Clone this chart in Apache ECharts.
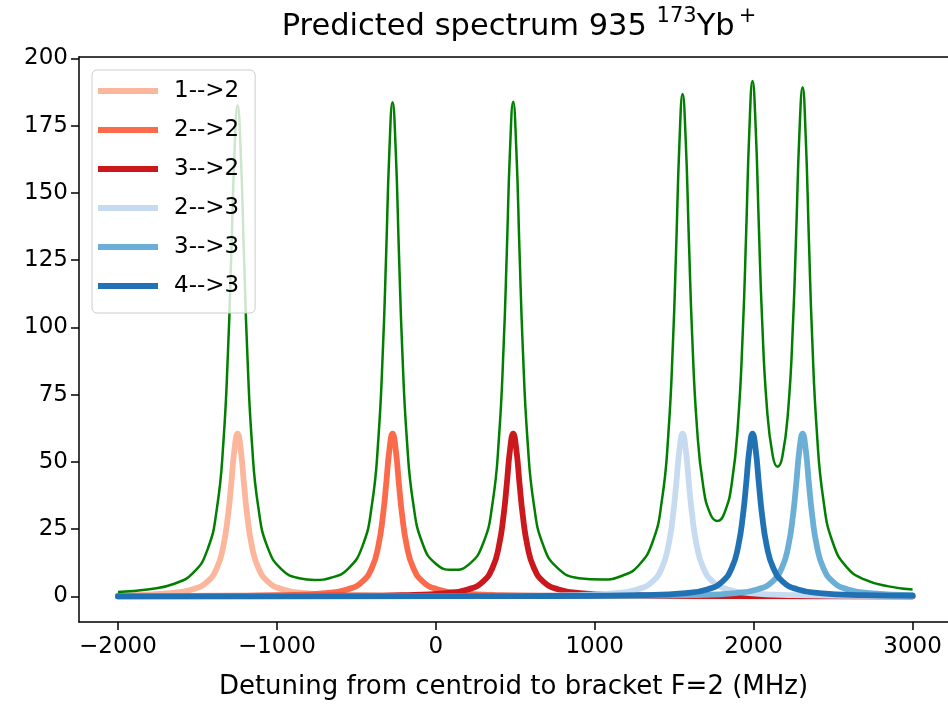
<!DOCTYPE html>
<html><head><meta charset="utf-8">
<script src="https://cdn.jsdelivr.net/npm/echarts@6/dist/echarts.min.js"></script>
<style>html,body{margin:0;padding:0;background:#fff}#c{width:948px;height:705px}</style>
</head><body><div id="c"></div>
<script>
// ---- data ----
const seriesNames = ['1-->2', '2-->2', '3-->2', '2-->3', '3-->3', '4-->3'];
const xTicks = [-2000, -1000, 0, 1000, 2000, 3000];
const yTicks = [0, 25, 50, 75, 100, 125, 150, 175, 200];

const x12 = [-2000, -1667, -1527, -1437, -1377, -1337, -1307, -1287, -1267, -1247, -1227, -1207, -1187, -1157, -1117, -1057, -967, -827, -547, -247, 500, 3000];
const y12 = [0.38, 1.21, 2.66, 5.49, 10.62, 18.62, 30.25, 41.89, 54.45, 60.5, 54.45, 41.89, 30.25, 18.62, 10.62, 5.49, 2.66, 1.21, 0.44, 0.22, 0.07, 0.01];

const x22 = [-2000, -1272, -972, -692, -552, -462, -402, -362, -332, -312, -292, -272, -252, -232, -212, -182, -142, -82, 8, 148, 428, 728, 1500, 3000];
const y22 = [0.07, 0.22, 0.44, 1.21, 2.66, 5.49, 10.62, 18.62, 30.25, 41.89, 54.45, 60.5, 54.45, 41.89, 30.25, 18.62, 10.62, 5.49, 2.66, 1.21, 0.44, 0.22, 0.07, 0.02];

const x32 = [-2000, -513, -213, 67, 207, 297, 357, 397, 427, 447, 467, 487, 507, 527, 547, 577, 617, 677, 767, 907, 1187, 1487, 2200, 3000];
const y32 = [0.04, 0.22, 0.44, 1.21, 2.66, 5.49, 10.62, 18.62, 30.25, 41.89, 54.45, 60.5, 54.45, 41.89, 30.25, 18.62, 10.62, 5.49, 2.66, 1.21, 0.44, 0.22, 0.07, 0.03];

const x23 = [-2000, 0, 553, 853, 1133, 1273, 1363, 1423, 1463, 1493, 1513, 1533, 1553, 1573, 1593, 1613, 1643, 1683, 1743, 1833, 1973, 2253, 2553, 3000];
const y23 = [0.02, 0.09, 0.22, 0.44, 1.21, 2.66, 5.49, 10.62, 18.62, 30.25, 41.89, 54.45, 60.5, 54.45, 41.89, 30.25, 18.62, 10.62, 5.49, 2.66, 1.21, 0.44, 0.22, 0.10];

const x33 = [-2000, 500, 1000, 1308, 1608, 1888, 2028, 2118, 2178, 2218, 2248, 2268, 2288, 2308, 2328, 2348, 2368, 2398, 2438, 2498, 2588, 2728, 3000];
const y33 = [0.01, 0.07, 0.13, 0.22, 0.44, 1.21, 2.66, 5.49, 10.62, 18.62, 30.25, 41.89, 54.45, 60.5, 54.45, 41.89, 30.25, 18.62, 10.62, 5.49, 2.66, 1.21, 0.45];

const x43 = [-2000, 500, 993, 1293, 1573, 1713, 1803, 1863, 1903, 1933, 1953, 1973, 1993, 2013, 2033, 2053, 2083, 2123, 2183, 2273, 2413, 2693, 3000];
const y43 = [0.01, 0.10, 0.22, 0.44, 1.21, 2.66, 5.49, 10.62, 18.62, 30.25, 41.89, 54.45, 60.5, 54.45, 41.89, 30.25, 18.62, 10.62, 5.49, 2.66, 1.21, 0.44, 0.21];

const xSum = [-2000, -1800, -1650, -1527, -1437, -1377, -1337, -1307, -1287, -1267, -1247, -1227, -1207, -1187, -1157, -1117, -1057, -967, -860, -760, -660, -552, -462, -402, -362, -332, -312, -292, -272, -252, -232, -212, -182, -142, -82, 0, 107, 207, 297, 357, 397, 427, 447, 467, 487, 507, 527, 547, 577, 617, 677, 767, 900, 1050, 1180, 1273, 1363, 1423, 1463, 1493, 1513, 1533, 1553, 1573, 1593, 1613, 1643, 1683, 1730, 1773, 1816, 1863, 1903, 1933, 1953, 1973, 1993, 2013, 2033, 2053, 2083, 2120, 2150, 2180, 2218, 2248, 2268, 2288, 2308, 2328, 2348, 2368, 2398, 2438, 2498, 2588, 2700, 2850, 3000];
const ySum = [1.60, 2.66, 4.58, 8.71, 17.29, 32.78, 56.80, 91.75, 126.69, 164.41, 182.60, 164.49, 126.83, 91.97, 57.13, 33.25, 18.01, 9.86, 6.75, 6.11, 6.91, 10.24, 18.59, 33.98, 57.97, 92.90, 127.82, 165.55, 183.73, 165.63, 127.98, 93.13, 58.33, 34.52, 19.44, 12.11, 9.84, 11.79, 19.53, 34.63, 58.46, 93.27, 128.13, 165.79, 183.90, 165.72, 128.01, 93.09, 58.17, 34.20, 18.83, 10.49, 6.76, 6.23, 7.84, 11.26, 20.01, 35.75, 60.04, 95.25, 130.38, 168.35, 186.81, 169.01, 131.72, 97.29, 63.24, 40.79, 30.28, 28.01, 30.93, 42.22, 65.45, 100.21, 135.19, 173.11, 191.65, 174.06, 137.15, 103.30, 70.62, 52.32, 48.22, 51.68, 69.74, 101.98, 135.53, 172.11, 189.34, 170.41, 132.06, 96.59, 60.97, 36.25, 20.01, 10.67, 6.20, 3.69, 2.51];

// ---- chart ----
const colors = ['#fcb69c', '#fb6a4a', '#cb181d', '#c6dbef', '#6baed6', '#2171b5'];
const xs = [x12, x22, x32, x23, x33, x43];
const ys = [y12, y22, y32, y23, y33, y43];
const pairs = (xa, ya) => xa.map((x, i) => [x, ya[i]]);
const FONT = 'DejaVu Sans';
const XMIN = -2245, XMAX = 3223, YMIN = -9.55, YMAX = 200.55;

const series = seriesNames.map((n, k) => ({
  name: n, type: 'line', data: pairs(xs[k], ys[k]), showSymbol: false, symbol: 'none',
  smooth: 0.5,
  lineStyle: { color: colors[k], width: 5.8, cap: 'round', join: 'round' }, itemStyle: { color: colors[k] },
  z: 2
}));
series.push({
  name: 'sum', type: 'line', data: pairs(xSum, ySum), showSymbol: false, symbol: 'none',
  smooth: 0.5,
  lineStyle: { color: '#007f00', width: 2.5, join: 'round' }, itemStyle: { color: '#007f00' }, z: 3
});

const spine = { show: true, onZero: false, lineStyle: { color: '#000', width: 1.5 } };

const chart = echarts.init(document.getElementById('c'), null, { renderer: 'canvas' });
chart.setOption({
  animation: false,
  backgroundColor: '#ffffff',
  title: {
    text: '{a|Predicted spectrum 935 }{s|173}{a|Yb}{p|+}',
    left: 514, top: 1, textAlign: 'center',
    textStyle: {
      fontWeight: 'normal',
      rich: {
        a: { fontFamily: FONT, fontSize: 30.5, fontWeight: 'normal', color: '#000', lineHeight: 37, verticalAlign: 'bottom' },
        s: { fontFamily: FONT, fontSize: 21, fontWeight: 'normal', color: '#000', lineHeight: 21, verticalAlign: 'top' },
        p: { fontFamily: FONT, fontSize: 21, fontWeight: 'normal', color: '#000', lineHeight: 21, verticalAlign: 'top', padding: [0, 0, 0, 4] }
      }
    }
  },
  grid: { left: 79, right: 0, top: 57, bottom: 83, show: false, containLabel: false },
  legend: {
    data: seriesNames, orient: 'vertical', left: 92, top: 70,
    icon: 'rect', itemWidth: 60, itemHeight: 6, itemGap: 15,
    padding: [9, 16, 15, 6],
    backgroundColor: 'rgba(255,255,255,0.8)', borderColor: '#cccccc', borderWidth: 1, borderRadius: 5,
    textStyle: { fontFamily: FONT, fontSize: 23, color: '#000', lineHeight: 24, padding: [0, 0, 0, 11] }
  },
  xAxis: [{
    type: 'value', min: XMIN, max: XMAX, position: 'bottom',
    axisLine: spine,
    splitLine: { show: false },
    axisTick: { show: true, customValues: xTicks, length: 8, lineStyle: { color: '#000', width: 1.5 } },
    axisLabel: {
      customValues: xTicks, margin: 14, fontFamily: FONT, fontSize: 23, color: '#000',
      formatter: v => (v < 0 ? '\u2212' + Math.abs(v) : String(v))
    },
    name: 'Detuning from centroid to bracket F=2 (MHz)', nameLocation: 'middle', nameGap: 52,
    nameTextStyle: { fontFamily: FONT, fontSize: 26, color: '#000' }
  }, {
    type: 'value', min: XMIN, max: XMAX, position: 'top',
    axisLine: spine, axisTick: { show: false }, axisLabel: { show: false }, splitLine: { show: false }
  }],
  yAxis: {
    type: 'value', min: YMIN, max: YMAX, position: 'left',
    axisLine: spine,
    splitLine: { show: false },
    axisTick: { show: true, customValues: yTicks, length: 8, lineStyle: { color: '#000', width: 1.5 } },
    axisLabel: { customValues: yTicks, margin: 11, fontFamily: FONT, fontSize: 23, color: '#000' }
  },
  series: series
});
</script>
</body></html>
